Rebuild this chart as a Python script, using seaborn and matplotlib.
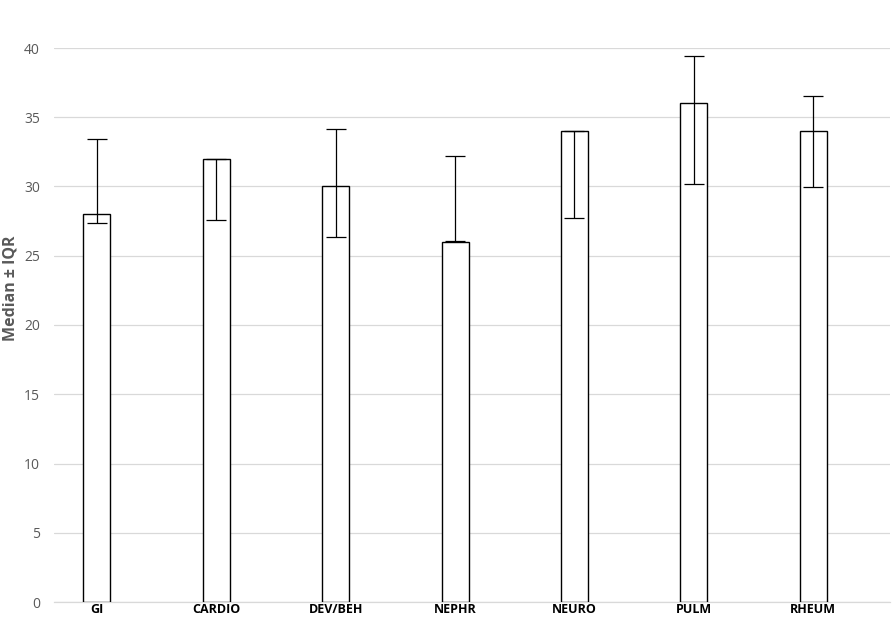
import matplotlib
matplotlib.use("Agg")
import matplotlib.pyplot as plt
import seaborn as sns
import pandas as pd
import numpy as np

categories = ["GI", "CARDIO", "DEV/BEH", "NEPHR", "NEURO", "PULM", "RHEUM"]
median = [28, 32, 30, 26, 34, 36, 34]
q_low = [27.4, 27.6, 26.35, 26.1, 27.75, 30.15, 29.95]
q_high = [33.4, 32.0, 34.15, 32.2, 34.0, 39.4, 36.5]
y_ticks = [0, 5, 10, 15, 20, 25, 30, 35, 40]

sns.set_theme(style="white")
plt.rcParams['font.family'] = ['Open Sans', 'DejaVu Sans']

df = pd.DataFrame({"cat": categories, "median": median})

W, H = 895, 632
fig = plt.figure(figsize=(W / 100, H / 100), dpi=100)
ax = fig.add_axes([54 / W, (H - 602) / H, (890 - 54) / W, (602 - 48) / H])

sns.barplot(data=df, x="cat", y="median", ax=ax, color="white",
            edgecolor="black", linewidth=1.0, width=0.226, errorbar=None,
            zorder=3)
for p in ax.patches:
    p.set_facecolor("white")
    p.set_edgecolor("black")

x = np.arange(len(categories))
lo_arr = np.array(q_low)
hi_arr = np.array(q_high)
mid = (lo_arr + hi_arr) / 2
half = (hi_arr - lo_arr) / 2
ax.errorbar(x, mid, yerr=half, fmt="none", ecolor="black",
            elinewidth=0.9, capsize=7.2, capthick=0.9, zorder=4)

ax.set_xlim(-0.358, 6.642)
ax.set_ylim(0, 40)
ax.set_yticks(y_ticks)
ax.set_yticklabels([str(t) for t in y_ticks], color="#595959", fontsize=10)
ax.yaxis.grid(True, color="#d9d9d9", linewidth=0.9, zorder=0)
ax.set_axisbelow(True)
for s in ["top", "right", "left"]:
    ax.spines[s].set_visible(False)
ax.spines["bottom"].set_color("#d9d9d9")
ax.spines["bottom"].set_linewidth(0.9)
ax.tick_params(axis="y", length=0, pad=10)
ax.tick_params(axis="x", length=0, pad=1)
for lbl in ax.get_xticklabels():
    lbl.set_fontweight("bold")
    lbl.set_fontsize(9)
    lbl.set_color("black")
ax.set_xlabel("")
ax.set_ylabel("")
fig.text(11 / W, 1 - 288 / H, "Median \u00b1 IQR", color="#595959", fontsize=11.5,
         fontweight="bold", rotation=90, ha="center", va="center")

fig.savefig("out.png", dpi=100)
